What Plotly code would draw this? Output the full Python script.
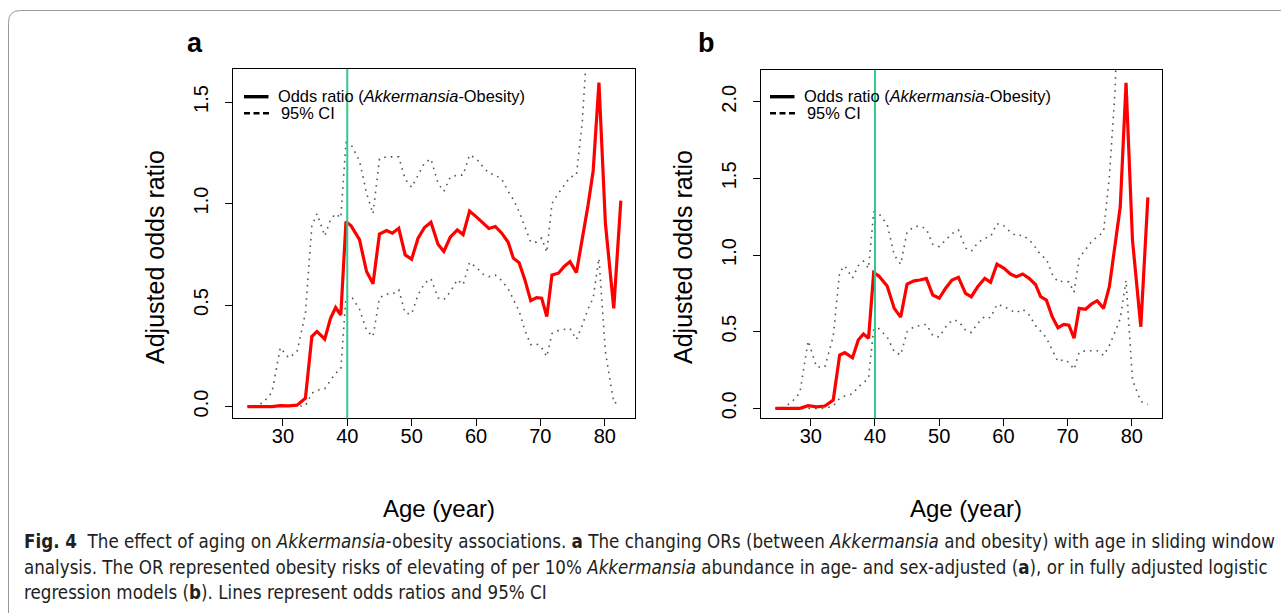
import plotly.graph_objects as go

W, H = 1281, 613

# ---------------- data ----------------
age = [24.5, 25.8, 27.0, 28.3, 29.6, 30.9, 32.2, 33.5, 34.5, 35.3,
       36.5, 37.4, 38.2, 39.0, 39.8, 40.6, 41.9, 43.0, 44.0, 45.0,
       46.1, 47.0, 48.0, 49.0, 50.0, 51.0, 52.0, 53.0, 54.1, 55.0,
       56.0, 57.1, 58.0, 59.0, 60.1, 61.1, 62.0, 63.0, 64.0, 65.0,
       65.8, 66.7, 67.6, 68.5, 69.4, 70.2, 71.0, 71.8, 72.8, 73.7,
       74.6, 75.6, 76.5, 77.4, 78.2, 79.1, 80.1, 81.4, 82.5]

# panel a: age- and sex-adjusted
or_a = [0.0, 0.0, 0.0, 0.0, 0.004, 0.003, 0.007, 0.041, 0.345, 0.370,
        0.332, 0.435, 0.488, 0.451, 0.911, 0.890, 0.822, 0.665, 0.605, 0.850,
        0.867, 0.854, 0.878, 0.747, 0.726, 0.829, 0.882, 0.908, 0.800, 0.764,
        0.834, 0.870, 0.847, 0.963, 0.933, 0.903, 0.877, 0.887, 0.854, 0.809,
        0.731, 0.709, 0.624, 0.522, 0.537, 0.534, 0.443, 0.648, 0.657, 0.690,
        0.714, 0.660, 0.82, 0.99, 1.16, 1.596, 0.903, 0.484, 1.014]
hi_a = [0.0, 0.005, 0.02, 0.07, 0.29, 0.24, 0.27, 0.46, 0.89, 0.95,
        0.84, 0.92, 0.95, 0.93, 1.30, 1.29, 1.21, 1.05, 0.95, 1.22,
        1.23, 1.23, 1.23, 1.12, 1.08, 1.14, 1.20, 1.22, 1.10, 1.06,
        1.13, 1.14, 1.14, 1.24, 1.22, 1.18, 1.15, 1.14, 1.12, 1.06,
        1.02, 0.96, 0.88, 0.81, 0.81, 0.83, 0.76, 1.00, 1.05, 1.09,
        1.13, 1.14, 1.40, 1.85, 2.8, 4.0, 3.5, 2.6, 3.2]
lo_a = [0.0, 0.0, 0.0, 0.0, 0.0, 0.0, 0.0, 0.003, 0.066, 0.08,
        0.088, 0.13, 0.165, 0.183, 0.54, 0.545, 0.48, 0.375, 0.345, 0.535,
        0.555, 0.554, 0.575, 0.46, 0.456, 0.55, 0.607, 0.63, 0.535, 0.526,
        0.565, 0.625, 0.60, 0.711, 0.685, 0.652, 0.64, 0.648, 0.62, 0.58,
        0.53, 0.47, 0.375, 0.305, 0.31, 0.29, 0.246, 0.36, 0.375, 0.38,
        0.385, 0.33, 0.40, 0.48, 0.535, 0.73, 0.27, 0.017, 0.024]

# panel b: fully adjusted
or_b = [0.0, 0.0, 0.0, 0.0, 0.017, 0.01, 0.015, 0.054, 0.348, 0.363,
        0.330, 0.446, 0.485, 0.457, 0.885, 0.863, 0.798, 0.652, 0.595, 0.811,
        0.832, 0.837, 0.848, 0.739, 0.718, 0.783, 0.837, 0.855, 0.750, 0.728,
        0.793, 0.848, 0.822, 0.941, 0.913, 0.876, 0.858, 0.876, 0.848, 0.808,
        0.728, 0.706, 0.598, 0.526, 0.548, 0.543, 0.457, 0.652, 0.646, 0.680,
        0.702, 0.652, 0.793, 1.054, 1.315, 2.124, 1.098, 0.532, 1.376]
hi_b = [0.0, 0.005, 0.04, 0.10, 0.44, 0.27, 0.27, 0.47, 0.89, 0.93,
        0.85, 0.93, 0.96, 0.913, 1.28, 1.27, 1.20, 1.00, 0.94, 1.15,
        1.185, 1.19, 1.17, 1.07, 1.055, 1.095, 1.14, 1.163, 1.045, 1.025,
        1.08, 1.11, 1.12, 1.205, 1.19, 1.15, 1.125, 1.13, 1.10, 1.05,
        1.00, 0.974, 0.875, 0.825, 0.83, 0.825, 0.757, 0.98, 1.04, 1.087,
        1.12, 1.15, 1.51, 2.076, 3.2, 5.0, 4.5, 3.0, 3.5]
lo_b = [0.0, 0.0, 0.0, 0.0, 0.0, 0.0, 0.0, 0.015, 0.065, 0.08,
        0.095, 0.14, 0.165, 0.196, 0.52, 0.52, 0.465, 0.37, 0.348, 0.50,
        0.532, 0.538, 0.548, 0.475, 0.465, 0.53, 0.575, 0.57, 0.51, 0.495,
        0.555, 0.60, 0.59, 0.678, 0.665, 0.64, 0.624, 0.646, 0.61, 0.54,
        0.505, 0.46, 0.38, 0.305, 0.318, 0.30, 0.254, 0.365, 0.376, 0.376,
        0.376, 0.345, 0.41, 0.50, 0.585, 0.835, 0.185, 0.045, 0.025]

x_ticks = [30, 40, 50, 60, 70, 80]
y_ticks_a = [0.0, 0.5, 1.0, 1.5]
y_ticks_b = [0.0, 0.5, 1.0, 1.5, 2.0]
ref_age = 40

# ---------------- helpers (layout only) ----------------
def fx(p):
    return p / W

def fy(p):
    return 1 - p / H

FONT = "Liberation Sans, Arial, Helvetica, sans-serif"
CAPFONT = "Liberation Sans Narrow, DejaVu Sans Condensed, Liberation Sans, sans-serif"

fig = go.Figure()

panels = [
    (or_a, lo_a, hi_a, "x", "y"),
    (or_b, lo_b, hi_b, "x2", "y2"),
]
for orv, lo, hi, xa, ya in panels:
    for ci in (hi, lo):
        fig.add_trace(go.Scatter(
            x=age, y=ci, mode="lines", xaxis=xa, yaxis=ya,
            line=dict(color="#555555", width=1.6, dash="1.6px,5px"),
            hoverinfo="skip", showlegend=False))
    fig.add_trace(go.Scatter(
        x=age, y=orv, mode="lines", xaxis=xa, yaxis=ya,
        line=dict(color="#ff0000", width=3.2),
        showlegend=False))

box_a = (233, 635, 69, 418.3)
box_b = (761, 1162, 70, 418.3)

def xaxis_cfg(box, anchor):
    return dict(
        domain=[fx(box[0]), fx(box[1])], anchor=anchor,
        range=[22.25, 84.7], tickvals=x_ticks,
        ticks="outside", ticklen=7, tickwidth=1.2, tickcolor="black",
        ticklabelstandoff=-7,
        showline=True, linecolor="black", linewidth=1.3, mirror=True,
        showgrid=False, zeroline=False, fixedrange=True,
        tickfont=dict(family=FONT, size=20, color="black"))

def yaxis_cfg(box, anchor, rng, ticks):
    return dict(
        domain=[fy(box[3]), fy(box[2])], anchor=anchor,
        range=rng, tickvals=ticks, ticktext=["%.1f" % t for t in ticks],
        tickangle=-90,
        ticks="outside", ticklen=7, tickwidth=1.2, tickcolor="black",
        ticklabelstandoff=9,
        showline=True, linecolor="black", linewidth=1.3, mirror=True,
        showgrid=False, zeroline=False, fixedrange=True,
        tickfont=dict(family=FONT, size=20, color="black"))

shapes = []
annotations = []

for box, xr in [(box_a, "x"), (box_b, "x2")]:
    shapes.append(dict(type="line", xref=xr, yref=("y domain" if xr == "x" else "y2 domain"),
                       x0=ref_age, x1=ref_age, y0=0, y1=1,
                       line=dict(color="#2ecc8f", width=2), layer="above"))

# legends (drawn like R's legend box without border)
for dx in (0, 526):
    shapes.append(dict(type="line", xref="paper", yref="paper",
                       x0=fx(244 + dx), x1=fx(268.5 + dx), y0=fy(96.7), y1=fy(96.7),
                       line=dict(color="black", width=3.4)))
    shapes.append(dict(type="line", xref="paper", yref="paper",
                       x0=fx(244 + dx), x1=fx(269 + dx), y0=fy(113.3), y1=fy(113.3),
                       line=dict(color="black", width=2.4, dash="6px,3.5px")))
    annotations.append(dict(xref="paper", yref="paper", x=fx(275.5 + dx), y=fy(95.5),
                            xanchor="left", yanchor="middle", showarrow=False,
                            text="Odds ratio (<i>Akkermansia</i>-Obesity)",
                            font=dict(family=FONT, size=16.4, color="black")))
    annotations.append(dict(xref="paper", yref="paper", x=fx(278.5 + dx), y=fy(113),
                            xanchor="left", yanchor="middle", showarrow=False,
                            text="95% CI",
                            font=dict(family=FONT, size=16.4, color="black")))

# axis titles
for box in (box_a, box_b):
    cx = (box[0] + box[1]) / 2
    annotations.append(dict(xref="paper", yref="paper", x=fx(cx + 5), y=fy(508),
                            xanchor="center", yanchor="middle", showarrow=False,
                            text="Age (year)", font=dict(family=FONT, size=24, color="black")))
    annotations.append(dict(xref="paper", yref="paper", x=fx(box[0] - 78), y=fy(257),
                            xanchor="center", yanchor="middle", showarrow=False, textangle=-90,
                            text="Adjusted odds ratio", font=dict(family=FONT, size=25, color="black")))

# panel letters
annotations.append(dict(xref="paper", yref="paper", x=fx(185), y=fy(43), xanchor="left", yanchor="middle",
                        showarrow=False, text="<b>a</b>", font=dict(family=FONT, size=27, color="black")))
annotations.append(dict(xref="paper", yref="paper", x=fx(696), y=fy(43), xanchor="left", yanchor="middle",
                        showarrow=False, text="<b>b</b>", font=dict(family=FONT, size=27, color="black")))

# caption
cap = [
    "<b>Fig. 4</b>\u00a0\u00a0The effect of aging on <i>Akkermansia</i>-obesity associations. <b>a</b> The changing ORs (between <i>Akkermansia</i> and obesity) with age in sliding window",
    "analysis. The OR represented obesity risks of elevating of per 10% <i>Akkermansia</i> abundance in age- and sex-adjusted (<b>a</b>), or in fully adjusted logistic",
    "regression models (<b>b</b>). Lines represent odds ratios and 95% CI",
]
for line, yy in zip(cap, (541, 567.5, 592)):
    annotations.append(dict(xref="paper", yref="paper", x=fx(22), y=fy(yy), xanchor="left", yanchor="middle",
                            showarrow=False, text=line, font=dict(family=CAPFONT, size=18.6, color="#231f20")))

# rounded outer frame
r = 12
L, T = 8.5, 10.5
path = (f"M {fx(L)},{fy(H + 20)} L {fx(L)},{fy(T + r)} "
        f"Q {fx(L)},{fy(T)} {fx(L + r)},{fy(T)} L {fx(W + 20)},{fy(T)}")
shapes.append(dict(type="path", xref="paper", yref="paper", path=path,
                   line=dict(color="#9a9a9a", width=1)))

fig.update_layout(
    width=W, height=H, autosize=False,
    margin=dict(l=0, r=0, t=0, b=0, pad=0),
    paper_bgcolor="white", plot_bgcolor="white",
    xaxis=xaxis_cfg(box_a, "y"),
    yaxis=yaxis_cfg(box_a, "x", [-0.058, 1.663], y_ticks_a),
    xaxis2=xaxis_cfg(box_b, "y2"),
    yaxis2=yaxis_cfg(box_b, "x2", [-0.065, 2.207], y_ticks_b),
    shapes=shapes, annotations=annotations,
    showlegend=False,
)

fig.write_html("out.html")
